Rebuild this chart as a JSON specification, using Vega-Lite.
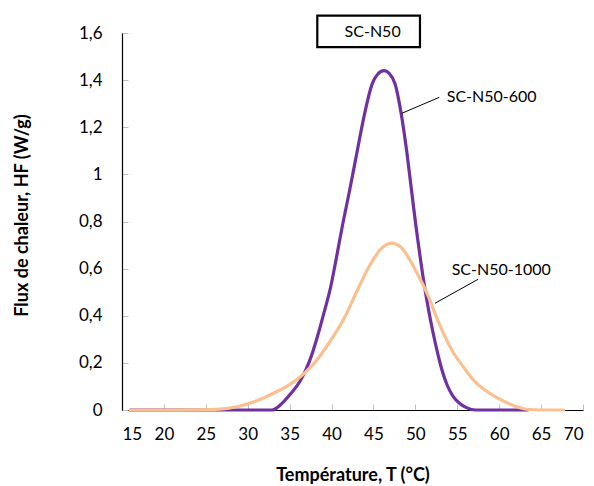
{
  "$schema": "https://vega.github.io/schema/vega-lite/v6.json",
  "autosize": "none",
  "width": 461,
  "height": 377,
  "padding": {"left": 122, "top": 33, "right": 11, "bottom": 76},
  "background": "white",
  "config": {
    "view": {"stroke": null},
    "font": "Lato",
    "axis": {"labelFont": "Lato", "titleFont": "Lato", "labelColor": "#000000", "titleColor": "#000000"}
  },
  "datasets": {
    "curves": [
      {"T": 16, "HF": 0, "serie": "SC-N50-600"},
      {"T": 20, "HF": 0, "serie": "SC-N50-600"},
      {"T": 25, "HF": 0, "serie": "SC-N50-600"},
      {"T": 30, "HF": 0, "serie": "SC-N50-600"},
      {"T": 32.9, "HF": 0, "serie": "SC-N50-600"},
      {"T": 34, "HF": 0.025, "serie": "SC-N50-600"},
      {"T": 35, "HF": 0.064, "serie": "SC-N50-600"},
      {"T": 36.2, "HF": 0.12, "serie": "SC-N50-600"},
      {"T": 36.9, "HF": 0.168, "serie": "SC-N50-600"},
      {"T": 37.5, "HF": 0.22, "serie": "SC-N50-600"},
      {"T": 38.3, "HF": 0.31, "serie": "SC-N50-600"},
      {"T": 39, "HF": 0.4, "serie": "SC-N50-600"},
      {"T": 39.9, "HF": 0.523, "serie": "SC-N50-600"},
      {"T": 40.6, "HF": 0.65, "serie": "SC-N50-600"},
      {"T": 41.2, "HF": 0.764, "serie": "SC-N50-600"},
      {"T": 42.2, "HF": 0.94, "serie": "SC-N50-600"},
      {"T": 43.07, "HF": 1.1, "serie": "SC-N50-600"},
      {"T": 43.87, "HF": 1.245, "serie": "SC-N50-600"},
      {"T": 44.86, "HF": 1.385, "serie": "SC-N50-600"},
      {"T": 45.5, "HF": 1.425, "serie": "SC-N50-600"},
      {"T": 46.26, "HF": 1.44, "serie": "SC-N50-600"},
      {"T": 46.9, "HF": 1.428, "serie": "SC-N50-600"},
      {"T": 47.57, "HF": 1.385, "serie": "SC-N50-600"},
      {"T": 48.37, "HF": 1.245, "serie": "SC-N50-600"},
      {"T": 48.96, "HF": 1.1, "serie": "SC-N50-600"},
      {"T": 49.44, "HF": 0.962, "serie": "SC-N50-600"},
      {"T": 50.07, "HF": 0.78, "serie": "SC-N50-600"},
      {"T": 50.55, "HF": 0.655, "serie": "SC-N50-600"},
      {"T": 51.07, "HF": 0.53, "serie": "SC-N50-600"},
      {"T": 51.6, "HF": 0.42, "serie": "SC-N50-600"},
      {"T": 52.1, "HF": 0.33, "serie": "SC-N50-600"},
      {"T": 52.6, "HF": 0.25, "serie": "SC-N50-600"},
      {"T": 53.13, "HF": 0.175, "serie": "SC-N50-600"},
      {"T": 53.8, "HF": 0.105, "serie": "SC-N50-600"},
      {"T": 54.5, "HF": 0.058, "serie": "SC-N50-600"},
      {"T": 55.3, "HF": 0.028, "serie": "SC-N50-600"},
      {"T": 56.1, "HF": 0.01, "serie": "SC-N50-600"},
      {"T": 57.2, "HF": 0, "serie": "SC-N50-600"},
      {"T": 60, "HF": 0, "serie": "SC-N50-600"},
      {"T": 63.4, "HF": 0, "serie": "SC-N50-600"},
      {"T": 16, "HF": 0, "serie": "SC-N50-1000"},
      {"T": 20, "HF": 0, "serie": "SC-N50-1000"},
      {"T": 24, "HF": 0.001, "serie": "SC-N50-1000"},
      {"T": 26.7, "HF": 0.004, "serie": "SC-N50-1000"},
      {"T": 29.1, "HF": 0.017, "serie": "SC-N50-1000"},
      {"T": 31.46, "HF": 0.045, "serie": "SC-N50-1000"},
      {"T": 33.85, "HF": 0.085, "serie": "SC-N50-1000"},
      {"T": 35, "HF": 0.108, "serie": "SC-N50-1000"},
      {"T": 36.24, "HF": 0.14, "serie": "SC-N50-1000"},
      {"T": 37.5, "HF": 0.182, "serie": "SC-N50-1000"},
      {"T": 38.6, "HF": 0.228, "serie": "SC-N50-1000"},
      {"T": 39.8, "HF": 0.29, "serie": "SC-N50-1000"},
      {"T": 41.4, "HF": 0.382, "serie": "SC-N50-1000"},
      {"T": 43.27, "HF": 0.523, "serie": "SC-N50-1000"},
      {"T": 44.5, "HF": 0.61, "serie": "SC-N50-1000"},
      {"T": 45.78, "HF": 0.679, "serie": "SC-N50-1000"},
      {"T": 47.18, "HF": 0.708, "serie": "SC-N50-1000"},
      {"T": 48.3, "HF": 0.69, "serie": "SC-N50-1000"},
      {"T": 49.57, "HF": 0.623, "serie": "SC-N50-1000"},
      {"T": 50.5, "HF": 0.56, "serie": "SC-N50-1000"},
      {"T": 51.07, "HF": 0.52, "serie": "SC-N50-1000"},
      {"T": 51.7, "HF": 0.47, "serie": "SC-N50-1000"},
      {"T": 52.4, "HF": 0.405, "serie": "SC-N50-1000"},
      {"T": 53.1, "HF": 0.345, "serie": "SC-N50-1000"},
      {"T": 54.5, "HF": 0.245, "serie": "SC-N50-1000"},
      {"T": 55.7, "HF": 0.184, "serie": "SC-N50-1000"},
      {"T": 57, "HF": 0.125, "serie": "SC-N50-1000"},
      {"T": 58.3, "HF": 0.085, "serie": "SC-N50-1000"},
      {"T": 60.3, "HF": 0.042, "serie": "SC-N50-1000"},
      {"T": 62.1, "HF": 0.014, "serie": "SC-N50-1000"},
      {"T": 63.5, "HF": 0.002, "serie": "SC-N50-1000"},
      {"T": 65, "HF": 0, "serie": "SC-N50-1000"},
      {"T": 67.7, "HF": 0, "serie": "SC-N50-1000"}
    ],
    "labels": [
      {"T": 53.74, "HF": 1.329, "text": "SC-N50-600"},
      {"T": 54.33, "HF": 0.594, "text": "SC-N50-1000"}
    ],
    "leaders": [
      {"T": 48.37, "HF": 1.259, "T2": 52.85, "HF2": 1.327},
      {"T": 52.34, "HF": 0.453, "T2": 57.5, "HF2": 0.555}
    ],
    "box": [
      {"T": 38.3, "T2": 50.55, "HF": 1.54, "HF2": 1.674, "text": "SC-N50", "Tc": 44.9, "HFc": 1.603}
    ]
  },
  "layer": [
    {
      "data": {"name": "curves"},
      "mark": {"type": "line", "interpolate": "monotone", "strokeWidth": 3.2, "strokeCap": "round"},
      "encoding": {
        "x": {
          "field": "T", "type": "quantitative",
          "scale": {"domain": [15, 70], "nice": false, "zero": false},
          "axis": {
            "title": "Température, T (°C)",
            "values": [15, 20, 25, 30, 35, 40, 45, 50, 55, 60, 65, 70],
            "format": "d",
            "labelFontSize": 17,
            "labelPadding": 22,
            "tickSize": -6,
            "tickColor": "#bfbfbf",
            "domainColor": "#000000",
            "domainWidth": 1.2,
            "grid": false,
            "titleFontSize": 18,
            "titleFontWeight": "bold",
            "titleX": 230.5,
            "titleY": 65.5,
            "titleBaseline": "middle",
            "titleAlign": "center"
          }
        },
        "y": {
          "field": "HF", "type": "quantitative",
          "scale": {"domain": [0, 1.6], "nice": false},
          "axis": {
            "title": "Flux de chaleur, HF (W/g)",
            "values": [0, 0.2, 0.4, 0.6, 0.8, 1, 1.2, 1.4, 1.6],
            "labelExpr": "replace(format(datum.value, '~g'), '.', ',')",
            "labelFontSize": 17,
            "labelPadding": 26,
            "tickSize": -6,
            "tickColor": "#bfbfbf",
            "domainColor": "#000000",
            "domainWidth": 1.2,
            "grid": false,
            "titleFontSize": 18,
            "titleFontWeight": "bold",
            "titleAngle": -90,
            "titleX": -100,
            "titleY": 182,
            "titleBaseline": "middle",
            "titleAlign": "center"
          }
        },
        "color": {
          "field": "serie", "type": "nominal",
          "scale": {"domain": ["SC-N50-1000", "SC-N50-600"], "range": ["#FAC090", "#7030A0"]},
          "legend": null
        }
      }
    },
    {
      "data": {"name": "leaders"},
      "mark": {"type": "rule", "color": "#000000", "strokeWidth": 1},
      "encoding": {
        "x": {"field": "T", "type": "quantitative"},
        "y": {"field": "HF", "type": "quantitative"},
        "x2": {"field": "T2"},
        "y2": {"field": "HF2"}
      }
    },
    {
      "data": {"name": "labels"},
      "mark": {"type": "text", "align": "left", "baseline": "middle", "fontSize": 16, "font": "Lato", "color": "#000000"},
      "encoding": {
        "x": {"field": "T", "type": "quantitative"},
        "y": {"field": "HF", "type": "quantitative"},
        "text": {"field": "text"}
      }
    },
    {
      "data": {"name": "box"},
      "mark": {"type": "rect", "fill": "white", "stroke": "#000000", "strokeWidth": 2.2},
      "encoding": {
        "x": {"field": "T", "type": "quantitative"},
        "x2": {"field": "T2"},
        "y": {"field": "HF", "type": "quantitative"},
        "y2": {"field": "HF2"}
      }
    },
    {
      "data": {"name": "box"},
      "mark": {"type": "text", "align": "center", "baseline": "middle", "fontSize": 16, "font": "Lato", "color": "#000000"},
      "encoding": {
        "x": {"field": "Tc", "type": "quantitative"},
        "y": {"field": "HFc", "type": "quantitative"},
        "text": {"field": "text"}
      }
    }
  ]
}
